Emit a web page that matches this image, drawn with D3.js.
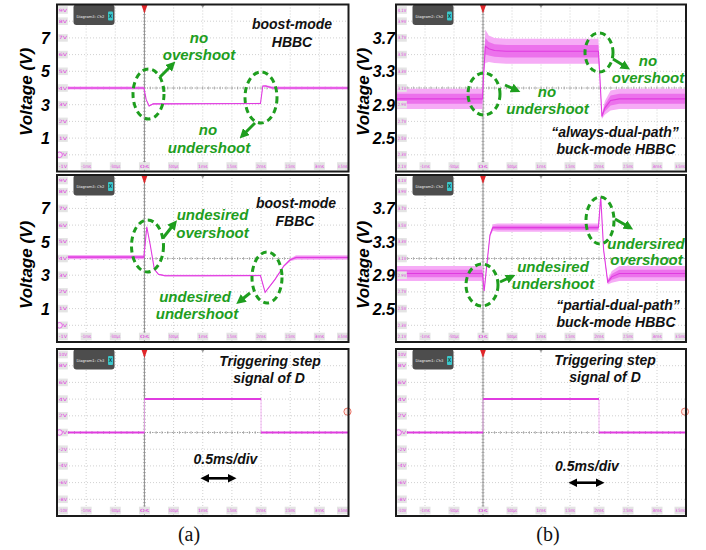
<!DOCTYPE html>
<html>
<head>
<meta charset="utf-8">
<script src="https://cdn.jsdelivr.net/npm/d3@7"></script>
<style>
  body { margin: 0; background: #fff; }
  svg { display: block; font-family: Arial, "Liberation Sans", sans-serif; }
</style>
</head>
<body>
<svg id="fig" width="706" height="550"></svg>
<script>
// ---- time base shared by every scope screen (ms, 0.5 ms/div) ----
const timeTicks  = [-1.5, -1, -0.5, 0, 0.5, 1, 1.5, 2, 2.5, 3, 3.5];
const timeLabels = ["", "-1ms", "-500µs", "0s", "500µs", "1ms", "1.5ms", "2ms", "2.5ms", "3ms", "3.5ms"];

// ---- vertical grid levels of each screen (top to bottom) ----
const boostLevels = [9, 8, 7, 6, 5, 4, 3, 2, 1, 0, -1];
const boostLevelLabels = ["9V", "8V", "7V", "6V", "5V", "4V", "3V", "2V", "1V", "0V", "-1V"];
const buckLevels = [4.1, 3.9, 3.7, 3.5, 3.3, 3.1, 2.9, 2.7, 2.5, 2.3, 2.1];
const buckLevelLabels = ["4.1V", "3.9V", "3.7V", "3.5V", "3.3V", "3.1V", "2.9V", "2.7V", "2.5V", "2.3V", "2.1V"];
const stepLevels = [10, 8, 6, 4, 2, 0, -2, -4, -6, -8, -10];
const stepLevelLabels = ["10V", "8V", "6V", "4V", "2V", "0V", "-2V", "-4V", "-6V", "-8V", "-10V"];

// ---- outer voltage axes ----
const boostAxisValues = [7, 5, 3, 1];
const buckAxisValues = [3.7, 3.3, 2.9, 2.5];

// ---- boost-mode HBBC output: time (ms), voltage (V), ripple half-width (V) ----
const hbbcBoostT = [-1.5, -0.01, 0.03, 0.08, 0.15, 1.0, 1.99, 2.03, 2.08, 2.2, 3.5];
const hbbcBoostV = [4.0, 4.0, 3.3, 2.92, 3.05, 3.06, 3.07, 4.12, 4.12, 4.0, 4.0];
const hbbcBoostW = [0.09, 0.09, 0.02, 0.03, 0.04, 0.04, 0.04, 0.03, 0.06, 0.09, 0.09];

// ---- boost-mode FBBC output ----
const fbbcBoostT = [-1.5, -0.01, 0.04, 0.1, 0.17, 0.24, 0.35, 1.0, 1.99, 2.07, 2.24, 2.39, 2.5, 2.6, 3.5];
const fbbcBoostV = [4.08, 4.08, 5.9, 4.8, 3.35, 3.05, 2.97, 2.97, 2.98, 1.97, 2.75, 3.55, 3.92, 4.06, 4.06];
const fbbcBoostW = [0.13, 0.13, 0.02, 0.02, 0.03, 0.04, 0.05, 0.05, 0.05, 0.02, 0.03, 0.05, 0.08, 0.13, 0.13];

// ---- "always-dual-path" buck-mode HBBC output ----
const alwaysBuckT = [-1.5, -0.01, 0.01, 0.04, 0.1, 0.2, 0.4, 1.99, 2.01, 2.05, 2.1, 2.2, 2.35, 3.5];
const alwaysBuckV = [2.97, 2.97, 3.25, 3.6, 3.57, 3.55, 3.54, 3.54, 3.3, 2.76, 2.86, 2.95, 2.97, 2.97];
const alwaysBuckW = [0.12, 0.12, 0.01, 0.2, 0.16, 0.15, 0.15, 0.15, 0.02, 0.03, 0.08, 0.12, 0.12, 0.12];

// ---- "partial-dual-path" buck-mode HBBC output ----
const partialBuckT = [-1.5, -0.01, 0.02, 0.07, 0.12, 0.17, 0.25, 1.99, 2.03, 2.08, 2.15, 2.22, 2.35, 3.5];
const partialBuckV = [2.92, 2.92, 2.71, 3.05, 3.38, 3.47, 3.47, 3.47, 3.84, 3.2, 2.82, 2.88, 2.92, 2.92];
const partialBuckW = [0.09, 0.09, 0.01, 0.01, 0.02, 0.04, 0.05, 0.05, 0.01, 0.01, 0.03, 0.07, 0.09, 0.09];

// ---- triggering step of D: breakpoints (ms) and level of each interval (V) ----
const stepT = [-1.5, 0, 2, 3.5];
const stepV = [0, 4, 0];

// ---- layout ----
const svg = d3.select("#fig");
const cols = { a: [57, 348.5], b: [396, 686] };
const rows = [[4.5, 171.5], [175, 342], [349, 516]];
const PINK = "#e03ce0";
const GREEN = "#1e9e1e";

const panels = [
  { id: "a0", col: "a", row: 0, levels: boostLevels, labels: boostLevelLabels, diagram: "Diagram3: Ch2",
    trace: [hbbcBoostT, hbbcBoostV, hbbcBoostW], gnd: 0 },
  { id: "a1", col: "a", row: 1, levels: boostLevels, labels: boostLevelLabels, diagram: "Diagram3: Ch2",
    trace: [fbbcBoostT, fbbcBoostV, fbbcBoostW], gnd: 0 },
  { id: "a2", col: "a", row: 2, levels: stepLevels, labels: stepLevelLabels, diagram: "Diagram1: Ch3",
    step: true, gnd: 0 },
  { id: "b0", col: "b", row: 0, levels: buckLevels, labels: buckLevelLabels, diagram: "Diagram2: Ch2",
    trace: [alwaysBuckT, alwaysBuckV, alwaysBuckW] },
  { id: "b1", col: "b", row: 1, levels: buckLevels, labels: buckLevelLabels, diagram: "Diagram2: Ch2",
    trace: [partialBuckT, partialBuckV, partialBuckW] },
  { id: "b2", col: "b", row: 2, levels: stepLevels, labels: stepLevelLabels, diagram: "Diagram1: Ch3",
    step: true, gnd: 0 }
];

const defs = svg.append("defs");
defs.append("marker").attr("id", "ghead").attr("viewBox", "0 0 10 10")
  .attr("refX", 5).attr("refY", 5).attr("markerWidth", 3.2).attr("markerHeight", 3.2)
  .attr("orient", "auto")
  .append("path").attr("d", "M0,0 L10,5 L0,10 z").attr("fill", GREEN);
defs.append("marker").attr("id", "khead").attr("viewBox", "0 0 10 10")
  .attr("refX", 6).attr("refY", 5).attr("markerWidth", 3.4).attr("markerHeight", 3.4)
  .attr("orient", "auto-start-reverse")
  .append("path").attr("d", "M0,0 L10,5 L0,10 z").attr("fill", "#000");

function drawScope(p) {
  const [x0, x1] = cols[p.col];
  const [y0, y1] = rows[p.row];
  const x = d3.scaleLinear().domain([timeTicks[0], timeTicks[timeTicks.length - 1]]).range([x0, x1]);
  const y = d3.scaleLinear().domain([p.levels[p.levels.length - 1], p.levels[0]]).range([y1, y0]);
  const g = svg.append("g");

  defs.append("clipPath").attr("id", "clip-" + p.id)
    .append("rect").attr("x", x0).attr("y", y0).attr("width", x1 - x0).attr("height", y1 - y0);

  g.append("rect").attr("x", x0).attr("y", y0).attr("width", x1 - x0).attr("height", y1 - y0)
    .attr("fill", "#fff");

  // dotted graticule
  const grid = g.append("g").attr("stroke", "#c4c4c4").attr("stroke-width", 0.8)
    .attr("stroke-dasharray", "1,2");
  grid.selectAll("line.v").data(timeTicks.slice(1, -1)).join("line")
    .attr("x1", d => x(d)).attr("x2", d => x(d)).attr("y1", y0).attr("y2", y1);
  grid.selectAll("line.h").data(p.levels.slice(1, -1)).join("line")
    .attr("x1", x0).attr("x2", x1).attr("y1", d => y(d)).attr("y2", d => y(d));

  // centre axes with minor ticks
  const midLevel = p.levels[5];
  const ym = y(midLevel), xz = x(0);
  g.append("line").attr("x1", x0).attr("x2", x1).attr("y1", ym).attr("y2", ym)
    .attr("stroke", "#8c8c8c").attr("stroke-width", 0.8).attr("stroke-dasharray", "1,1.5");
  g.append("line").attr("x1", xz).attr("x2", xz).attr("y1", y0).attr("y2", y1)
    .attr("stroke", "#8a8a8a").attr("stroke-width", 0.9);
  const minorT = d3.range(0, 50).map(i => timeTicks[0] + i * 0.1);
  g.selectAll("line.mt").data(minorT).join("line")
    .attr("x1", d => x(d)).attr("x2", d => x(d)).attr("y1", ym - 1.5).attr("y2", ym + 1.5)
    .attr("stroke", "#8c8c8c").attr("stroke-width", 0.6);
  const lvStep = (p.levels[0] - p.levels[1]) / 5;
  const minorV = d3.range(0, 50).map(i => p.levels[p.levels.length - 1] + i * lvStep);
  g.selectAll("line.mv").data(minorV).join("line")
    .attr("x1", xz - 1.5).attr("x2", xz + 1.5).attr("y1", d => y(d)).attr("y2", d => y(d))
    .attr("stroke", "#8c8c8c").attr("stroke-width", 0.6);

  // waveform
  const tg = g.append("g").attr("clip-path", "url(#clip-" + p.id + ")");
  if (p.trace) {
    const [T, V, W] = p.trace;
    const pts = T.map((t, i) => ({ t, v: V[i], w: W[i] }));
    const band = k => d3.area().x(d => x(d.t))
      .y0(d => y(d.v - d.w * k)).y1(d => y(d.v + d.w * k));
    tg.append("path").attr("d", band(1)(pts)).attr("fill", "#f6acf6");
    tg.append("path").attr("d", band(0.5)(pts)).attr("fill", "#ec72ec");
    tg.append("path").attr("d", d3.line().x(d => x(d.t)).y(d => y(d.v))(pts))
      .attr("fill", "none").attr("stroke", PINK).attr("stroke-width", 1.1);
  }
  if (p.step) {
    const segs = stepV.map((v, i) => ({ t0: stepT[i], t1: stepT[i + 1], v }));
    tg.selectAll("line.edge").data(segs.slice(1)).join("line")
      .attr("x1", d => x(d.t0)).attr("x2", d => x(d.t0))
      .attr("y1", (d, i) => y(segs[i].v)).attr("y2", d => y(d.v))
      .attr("stroke", "#f2a6f2").attr("stroke-width", 0.8);
    tg.selectAll("line.lvl").data(segs).join("line")
      .attr("x1", d => x(d.t0)).attr("x2", d => x(d.t1))
      .attr("y1", d => y(d.v)).attr("y2", d => y(d.v))
      .attr("stroke", PINK).attr("stroke-width", 2);
    // trigger level marker on the right edge
    g.append("circle").attr("cx", x1 - 1).attr("cy", y(2.5)).attr("r", 3.6)
      .attr("fill", "#fde8e4").attr("stroke", "#e4685a").attr("stroke-width", 0.9);
  }

  // level read-outs on the left and time read-outs along the bottom
  const lab = g.append("g").attr("font-family", "DejaVu Sans, sans-serif").attr("font-size", 4.4)
    .attr("fill", PINK).attr("text-anchor", "middle");
  const clampY = v => Math.max(y0 + 5.5, Math.min(y1 - 5.5, y(v)));
  const ly = lab.selectAll("g.ly").data(p.levels).join("g")
    .attr("transform", d => `translate(${x0 + 6},${clampY(d)})`);
  ly.append("rect").attr("x", -4.8).attr("y", -3.8).attr("width", 9.6).attr("height", 7.6)
    .attr("fill", "#e4e4e4");
  ly.append("text").attr("dy", "0.35em").attr("textLength", 8.4).attr("lengthAdjust", "spacingAndGlyphs")
    .text((d, i) => p.labels[i]);
  const lx = lab.selectAll("g.lx").data(timeTicks.slice(1)).join("g")
    .attr("transform", d => `translate(${Math.min(x(d), x1 - 6)},${y1 - 5.5})`);
  lx.append("rect").attr("x", -5.5).attr("y", -3.8).attr("width", 11).attr("height", 7.6)
    .attr("fill", "#e4e4e4");
  lx.append("text").attr("dy", "0.35em").attr("textLength", 9.6).attr("lengthAdjust", "spacingAndGlyphs")
    .text((d, i) => timeLabels[i + 1]);

  if (p.gnd !== undefined) {
    g.append("circle").attr("cx", x0 + 2.5).attr("cy", y(p.gnd)).attr("r", 2.8)
      .attr("fill", "#fbe0fb").attr("stroke", PINK).attr("stroke-width", 0.7);
  }

  // trigger position and centre markers
  g.append("path").attr("d", `M${xz - 3.2},${y0} L${xz + 3.2},${y0} L${xz},${y0 + 9} Z`)
    .attr("fill", "#e0262a");
  const xc = x(1);
  g.append("path").attr("d", `M${xc - 2.2},${y0} L${xc + 2.2},${y0} L${xc},${y0 + 3.5} Z`)
    .attr("fill", "#9a9a9a");

  // channel tag
  const tag = g.append("g").attr("transform", `translate(${x0 + 16.5},${y0})`);
  tag.append("rect").attr("x", 0).attr("y", 0).attr("width", 41).attr("height", 20.5).attr("rx", 3)
    .attr("fill", "#4d4d4d");
  tag.append("text").attr("x", 3).attr("y", 13).attr("font-size", 3.7).attr("fill", "#f2f2f2")
    .attr("font-family", "DejaVu Sans, sans-serif").text(p.diagram);
  tag.append("rect").attr("x", 34.5).attr("y", 7).attr("width", 5).attr("height", 9).attr("rx", 1)
    .attr("fill", "#3cc8cc");
  tag.append("text").attr("x", 37).attr("y", 13.4).attr("font-size", 5).attr("fill", "#143c3c")
    .attr("text-anchor", "middle").attr("font-weight", "bold").text("X");

  // screen frame
  g.append("rect").attr("x", x0).attr("y", y0).attr("width", x1 - x0).attr("height", y1 - y0)
    .attr("fill", "none").attr("stroke", "#1a1a1a").attr("stroke-width", 2);

  return { x, y };
}

const scales = {};
panels.forEach(p => { scales[p.id] = drawScope(p); });

// outer voltage axes and titles
function voltAxis(id, values, xPos, fmt) {
  const ax = svg.append("g").attr("transform", `translate(${xPos},0)`)
    .call(d3.axisLeft(scales[id].y).tickValues(values).tickSize(0).tickPadding(0).tickFormat(fmt));
  ax.select(".domain").remove();
  ax.selectAll("text").attr("font-family", "Arial, 'Liberation Sans', sans-serif")
    .attr("font-size", 16).attr("font-weight", "bold").attr("font-style", "italic")
    .attr("fill", "#000").attr("dy", "0.34em");
}
voltAxis("a0", boostAxisValues, 50, d3.format("d"));
voltAxis("a1", boostAxisValues, 50, d3.format("d"));
voltAxis("b0", buckAxisValues, 395, d3.format(".1f"));
voltAxis("b1", buckAxisValues, 395, d3.format(".1f"));

const yTitles = [[32, 92], [32, 265], [369, 92], [369, 265]];
svg.selectAll("text.ytitle").data(yTitles).join("text")
  .attr("transform", d => `translate(${d[0]},${d[1]}) rotate(-90)`)
  .attr("text-anchor", "middle").attr("font-size", 17).attr("font-weight", "bold")
  .attr("font-style", "italic").attr("fill", "#000").text("Voltage (V)");

// green call-outs
const ellipses = [
  [148.5, 94, 15.5, 25], [261, 97.5, 16, 25.5],
  [147.5, 246, 16, 26], [267, 277.5, 15, 25.5],
  [484, 94, 16, 21], [599, 52.5, 14, 19.5],
  [482, 285, 16, 21], [600, 220.5, 14, 23.5]
];
svg.selectAll("ellipse.callout").data(ellipses).join("ellipse")
  .attr("cx", d => d[0]).attr("cy", d => d[1]).attr("rx", d => d[2]).attr("ry", d => d[3])
  .attr("fill", "none").attr("stroke", GREEN).attr("stroke-width", 3)
  .attr("stroke-dasharray", "6,4");

const arrows = [
  [160, 77, 172, 65], [255, 123, 243, 135],
  [163, 238, 174, 224], [250, 293, 240, 301],
  [505, 85, 516, 90], [613, 59, 626, 67],
  [500, 282, 511, 277], [615, 219, 629, 227]
];
svg.selectAll("line.arrow").data(arrows).join("line")
  .attr("x1", d => d[0]).attr("y1", d => d[1]).attr("x2", d => d[2]).attr("y2", d => d[3])
  .attr("stroke", GREEN).attr("stroke-width", 3).attr("marker-end", "url(#ghead)");

const greenNotes = [
  ["no", 199, 43], ["overshoot", 199, 60], ["no", 208, 135], ["undershoot", 209, 152.5],
  ["undesired", 212.5, 220], ["overshoot", 212.5, 237.5], ["undesired", 195, 301.5], ["undershoot", 197, 319],
  ["no", 547, 97], ["undershoot", 547.5, 114], ["no", 648, 66], ["overshoot", 648, 83],
  ["undesired", 553, 272], ["undershoot", 553, 289], ["undersired", 646, 249], ["overshoot", 646.5, 265]
];
svg.selectAll("text.gnote").data(greenNotes).join("text")
  .attr("x", d => d[1]).attr("y", d => d[2]).attr("text-anchor", "middle")
  .attr("font-size", 15).attr("font-weight", "bold").attr("font-style", "italic")
  .attr("fill", GREEN).text(d => d[0]);

const blackNotes = [
  ["boost-mode", 292, 29.3], ["HBBC", 292, 47.3],
  ["boost-mode", 296, 207.7], ["FBBC", 295, 226],
  ["Triggering step", 270, 365.5], ["signal of D", 269, 383],
  ["0.5ms/div", 225.5, 464], ["“always-dual-path”", 615, 137.3], ["buck-mode HBBC", 616, 154],
  ["“partial-dual-path”", 618, 310], ["buck-mode HBBC", 616, 326.7],
  ["Triggering step", 605, 364.5], ["signal of D", 605, 381.7], ["0.5ms/div", 587, 471]
];
svg.selectAll("text.knote").data(blackNotes).join("text")
  .attr("x", d => d[1]).attr("y", d => d[2]).attr("text-anchor", "middle")
  .attr("font-size", 14).attr("font-weight", "bold").attr("font-style", "italic")
  .attr("fill", "#111").text(d => d[0]);

// time-division arrows
const spans = [[204, 233, 478.3], [572, 601, 482.7]];
svg.selectAll("line.span").data(spans).join("line")
  .attr("x1", d => d[0]).attr("x2", d => d[1]).attr("y1", d => d[2]).attr("y2", d => d[2])
  .attr("stroke", "#000").attr("stroke-width", 2.6)
  .attr("marker-start", "url(#khead)").attr("marker-end", "url(#khead)");

// sub-figure captions
svg.selectAll("text.cap").data([["(a)", 189], ["(b)", 548]]).join("text")
  .attr("x", d => d[1]).attr("y", 541).attr("text-anchor", "middle")
  .attr("font-family", "'Liberation Serif', 'Times New Roman', serif").attr("font-size", 20)
  .attr("fill", "#111").text(d => d[0]);
</script>
</body>
</html>
